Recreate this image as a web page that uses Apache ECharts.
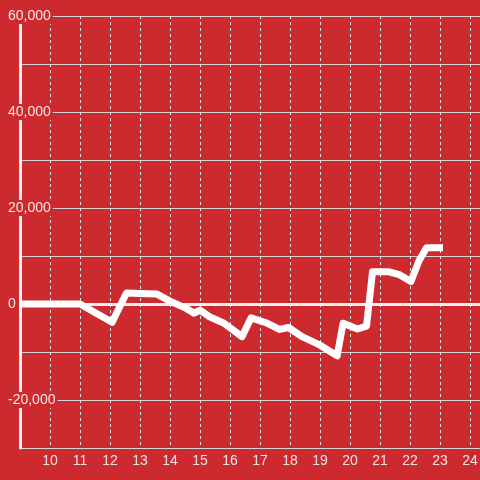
<!DOCTYPE html>
<html>
<head>
<meta charset="utf-8">
<script src="https://cdn.jsdelivr.net/npm/echarts@6/dist/echarts.min.js"></script>
<style>
html,body{margin:0;padding:0;background:#cd2a30;}
#chart{width:480px;height:480px;}
</style>
</head>
<body>
<div id="chart"></div>
<script>
const hours = [9, 11, 12.07, 12.55, 13, 13.55, 14, 14.5, 14.8, 15.0, 15.3, 15.8, 16.4, 16.7, 17.2, 17.65, 17.95, 18.4, 18.95, 19.57, 19.77, 20.25, 20.55, 20.75, 21.3, 21.65, 22.03, 22.3, 22.55, 23.1];
const values = [0, 0, -3800, 2300, 2200, 2100, 600, -800, -1900, -1300, -2600, -4000, -6800, -2900, -3900, -5300, -4900, -6800, -8400, -10800, -4000, -5200, -4600, 6700, 6700, 6100, 4700, 9000, 11700, 11700];
const yLabelValues = [-20000, 0, 20000, 40000, 60000];

const bg = '#cd2a30';
const textColor = '#f5e4e4';
const chart = echarts.init(document.getElementById('chart'));
chart.setOption({
  backgroundColor: bg,
  animation: false,
  grid: {left: 20, right: 0, top: 16, bottom: 32, containLabel: false, outerBoundsMode: 'none'},
  xAxis: {
    type: 'value', min: 9, max: 24.333, interval: 1,
    axisLine: {show: true, lineStyle: {color: '#dcdcdc', width: 1}},
    axisTick: {show: false},
    axisLabel: {
      color: textColor, fontSize: 14, fontFamily: 'Liberation Sans, Arial, sans-serif', margin: 6,
      showMinLabel: false, hideOverlap: false,
      formatter: v => (Number.isInteger(v) && v > 9) ? String(v) : ''
    },
    splitLine: {show: true, lineStyle: {color: '#e6e6e6', width: 1, type: [3, 3]}}
  },
  yAxis: {
    type: 'value', min: -30000, max: 60000, interval: 10000,
    axisLine: {show: true, lineStyle: {color: '#f0f0f0', width: 3}},
    axisTick: {show: false},
    axisLabel: {
      color: textColor, fontSize: 14, fontFamily: 'Liberation Sans, Arial, sans-serif',
      align: 'left', margin: 14, backgroundColor: bg, padding: [1, 2, 1, 2],
      formatter: v => yLabelValues.includes(v) ? v.toLocaleString('en-US') : ''
    },
    splitLine: {show: true, lineStyle: {color: '#d6d6d6', width: 1}}
  },
  series: [{
    type: 'line',
    data: hours.map((h, i) => [h, values[i]]),
    showSymbol: false,
    lineStyle: {color: '#ffffff', width: 7, join: 'round'},
    markLine: {
      silent: true, symbol: 'none', label: {show: false},
      lineStyle: {color: '#f0f0f0', width: 3, type: 'solid'},
      data: [{yAxis: 0}],
      z: 1
    }
  }]
});
</script>
</body>
</html>
